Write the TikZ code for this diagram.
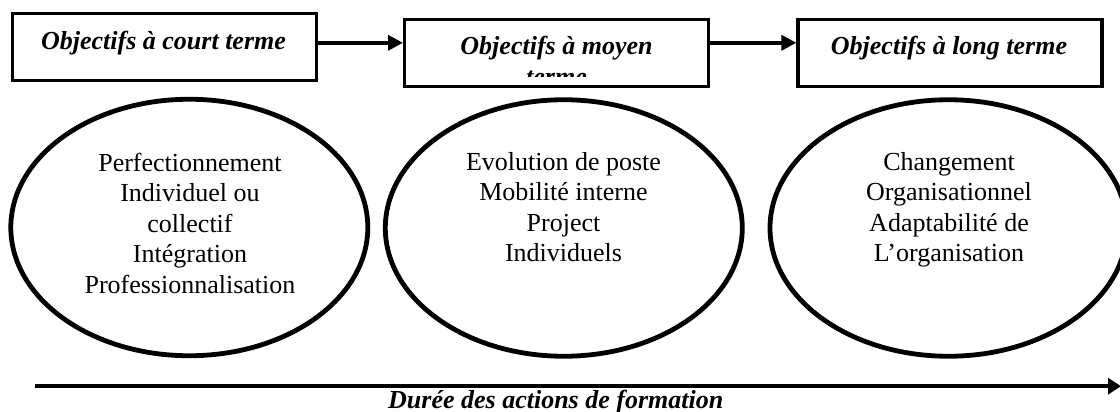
\documentclass[tikz,border=0pt]{standalone}
\usepackage{fontspec}
\setmainfont{Liberation Serif}
\usetikzlibrary{arrows.meta,shapes.geometric,calc}
\begin{document}
\begin{tikzpicture}[x=1pt,y=-1pt,
  boxnode/.style={draw, line width=3.2pt, rectangle, minimum width=304pt, minimum height=67pt, inner sep=0pt},
  titletext/.style={font=\fontsize{26}{30.5}\selectfont\bfseries\itshape, inner sep=0pt, align=center},
  bubble/.style={draw, ellipse, line width=4.8pt, minimum width=357pt, minimum height=256.5pt, inner sep=0pt},
  bubbletext/.style={font=\fontsize{26}{30.5}\selectfont, align=center, inner sep=0pt},
  flow/.style={line width=3.5pt, -{Triangle[length=15pt,width=15pt]}},
  axis/.style={line width=3.5pt, -{Triangle[length=13pt,width=16pt]}}]
\useasboundingbox (0,0) rectangle (1120,412);
\fill[white] (0,0) rectangle (1120,412);
\clip (0,0) rectangle (1120,412);

% top boxes
\node[boxnode] (b1) at (164.5,47.3) {};
\node[boxnode] (b2) at (556.6,53.2) {};
\node[boxnode] (b3) at (950,52.9) {};

\node[titletext, anchor=base] (t1) at (163.5,50) {Objectifs à court terme};
\coordinate (clipbot) at (0,76.5);
\begin{scope}
  \clip (b2.north west) rectangle (b2.east |- clipbot);
  \node[titletext] (t2) at (556.5,60.75) {Objectifs à moyen\\terme};
\end{scope}
\node[titletext, anchor=base] (t3) at (949,55) {Objectifs à long terme};

% arrows between boxes
\coordinate (ya) at (0,42.8);
\draw[flow] (b1.east |- ya) -- (b2.west |- ya);
\draw[flow] (b2.east |- ya) -- (b3.west |- ya);

% ellipses
\node[bubble] (e1) at (189.3,227.5) {};
\node[bubble] (e2) at (563.8,228) {};
\node[bubble] (e3) at (948.5,228) {};

\node[bubbletext] (x1) at (190,223.2) {Perfectionnement\\Individuel ou\\collectif\\Intégration\\Professionnalisation};
\node[bubbletext] (x2) at (563.5,206.9) {Evolution de poste\\Mobilité interne\\Project\\Individuels};
\node[bubbletext] (x3) at (949,209.7) {Changement\\Organisationnel\\Adaptabilité de\\L’organisation};

% time axis
\coordinate (a0) at (35,386.2);
\coordinate (a1) at (1121,386.2);
\draw[axis] (a0) -- (a1);
\node[titletext, anchor=base west] (dur) at (388,408) {Durée des actions de formation};
\end{tikzpicture}
\end{document}
